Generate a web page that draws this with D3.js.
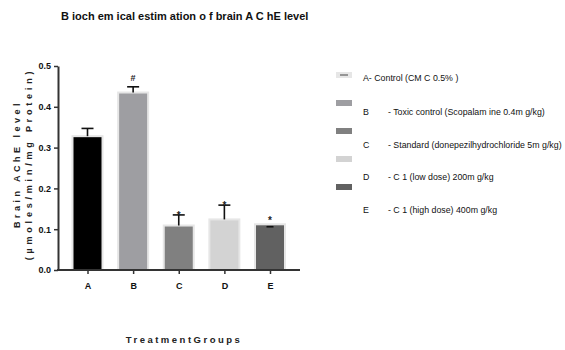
<!DOCTYPE html>
<html>
<head>
<meta charset="utf-8">
<script src="https://cdn.jsdelivr.net/npm/d3@7"></script>
<style>
body { margin: 0; background: #fff; }
text { font-family: "Liberation Sans", Arial, sans-serif; }
</style>
</head>
<body>
<div id="chart"></div>
<script>
// values
var groups = ["A", "B", "C", "D", "E"];
var means = [0.328, 0.435, 0.109, 0.124, 0.112];
var errors = [0.019, 0.014, 0.026, 0.035, -0.006];
var marks = ["", "#", "*", "*", "*"];
var colors = ["#000000", "#9e9ea2", "#808080", "#d3d3d3", "#616161"];
var yTicks = [0, 0.1, 0.2, 0.3, 0.4, 0.5];
var legendLabels = [
  ["A- Control (CM C 0.5% )", ""],
  ["B", "- Toxic control (Scopalam ine 0.4m g/kg)"],
  ["C", "- Standard (donepezilhydrochloride 5m g/kg)"],
  ["D", "- C 1 (low dose) 200m g/kg"],
  ["E", "- C 1 (high dose) 400m g/kg"]
];

var W = 565, H = 350;
var svg = d3.select("#chart").append("svg")
  .attr("width", W)
  .attr("height", H);

var x = d3.scalePoint()
  .domain(groups)
  .range([87.5, 270]);
var barW = 30;

var y = d3.scaleLinear()
  .domain([0, 0.5])
  .range([270, 66]);

// title
svg.append("text")
  .attr("x", 61)
  .attr("y", 20)
  .attr("font-size", "11px")
  .attr("font-weight", "bold")
  .attr("fill", "#111")
  .text("B ioch em ical estim ation o f brain A C hE level");

// bars
svg.selectAll(".bar")
  .data(groups)
  .enter().append("rect")
  .attr("class", "bar")
  .attr("x", function(d){ return x(d) - barW / 2; })
  .attr("y", function(d, i){ return y(means[i]); })
  .attr("width", barW)
  .attr("height", function(d, i){ return y(0) - y(means[i]); })
  .attr("fill", function(d, i){ return colors[i]; })
  .attr("stroke", "#e6e6e6")
  .attr("stroke-width", 2);

// error bars
var err = svg.selectAll(".err")
  .data(groups)
  .enter().append("g")
  .attr("class", "err");
err.append("line")
  .attr("x1", function(d){ return x(d); })
  .attr("x2", function(d){ return x(d); })
  .attr("y1", function(d, i){ return y(means[i]); })
  .attr("y2", function(d, i){ return y(means[i] + errors[i]); })
  .attr("stroke", function(d, i){ return errors[i] < 0 ? "none" : "#111"; })
  .attr("stroke-width", 1.6);
err.append("line")
  .attr("x1", function(d, i){ return x(d) - (errors[i] < 0 ? 3.5 : 6); })
  .attr("x2", function(d, i){ return x(d) + (errors[i] < 0 ? 3.5 : 6); })
  .attr("y1", function(d, i){ return y(means[i] + errors[i]); })
  .attr("y2", function(d, i){ return y(means[i] + errors[i]); })
  .attr("stroke", "#111")
  .attr("stroke-width", 1.6);

// significance marks
svg.selectAll(".mark")
  .data(groups)
  .enter().append("text")
  .attr("class", "mark")
  .attr("x", function(d){ return x(d); })
  .attr("y", function(d, i){
    var top = Math.max(means[i], means[i] + errors[i]);
    return errors[i] < 0 ? y(means[i]) - 4 : y(top) - (marks[i] == "#" ? 6 : 0);
  })
  .attr("dy", function(d, i){ return marks[i] == "#" ? 0 : 4; })
  .attr("text-anchor", "middle")
  .attr("font-size", function(d, i){ return marks[i] == "#" ? "9px" : "10px"; })
  .attr("font-weight", "bold")
  .attr("fill", "#222")
  .text(function(d, i){ return marks[i]; });

// y axis
var yAxis = svg.append("g")
  .attr("transform", "translate(58,0)")
  .call(d3.axisLeft(y).tickValues(yTicks).tickFormat(d3.format(".1f")).tickSize(4).tickSizeOuter(0));
yAxis.select(".domain").attr("stroke", "#333").attr("stroke-width", 2);
yAxis.selectAll(".tick line").attr("stroke", "#333").attr("stroke-width", 1.5);
yAxis.selectAll(".tick text")
  .attr("font-size", "9px")
  .attr("font-weight", "bold")
  .attr("fill", "#111")
  .attr("font-family", "Liberation Sans, Arial, sans-serif");

// x axis
var xAxis = svg.append("g")
  .attr("transform", "translate(0,270)")
  .call(d3.axisBottom(x).tickSize(4).tickSizeOuter(0).tickPadding(9));
xAxis.select(".domain")
  .attr("d", "M57,0H300")
  .attr("stroke", "#333").attr("stroke-width", 2);
xAxis.selectAll(".tick line").attr("stroke", "#333").attr("stroke-width", 1.5);
xAxis.selectAll(".tick text")
  .attr("font-size", "9px")
  .attr("font-weight", "bold")
  .attr("fill", "#111")
  .attr("font-family", "Liberation Sans, Arial, sans-serif");

// axis titles
svg.append("text")
  .attr("transform", "translate(20,164) rotate(-90)")
  .attr("text-anchor", "middle")
  .attr("font-size", "9px")
  .attr("font-weight", "bold")
  .attr("fill", "#222")
  .attr("letter-spacing", "3.5px")
  .text("Brain AChE level");
svg.append("text")
  .attr("transform", "translate(32,164) rotate(-90)")
  .attr("text-anchor", "middle")
  .attr("font-size", "9px")
  .attr("font-weight", "bold")
  .attr("fill", "#222")
  .attr("letter-spacing", "3.8px")
  .text("(µmoles/min/mg Protein)");

svg.append("text")
  .attr("x", 184)
  .attr("y", 343)
  .attr("text-anchor", "middle")
  .attr("font-size", "9.5px")
  .attr("font-weight", "bold")
  .attr("fill", "#222")
  .attr("letter-spacing", "2.5px")
  .text("TreatmentGroups");

// legend
var legend = svg.append("g");
var swY = [72, 100, 128, 156, 184];
var txY = [81, 115, 148, 180, 213];
legend.selectAll(".sw")
  .data(groups)
  .enter().append("rect")
  .attr("class", "sw")
  .attr("x", 336)
  .attr("y", function(d, i){ return swY[i]; })
  .attr("width", 16)
  .attr("height", 6)
  .attr("fill", function(d, i){ return i == 0 ? "#e6e6e6" : colors[i]; });
legend.append("line")
  .attr("x1", 340).attr("x2", 348)
  .attr("y1", swY[0] + 3).attr("y2", swY[0] + 3)
  .attr("stroke", "#444").attr("stroke-width", 1);
legend.selectAll(".lt")
  .data(legendLabels)
  .enter().append("text")
  .attr("class", "lt")
  .attr("x", 363)
  .attr("y", function(d, i){ return txY[i]; })
  .attr("font-size", "8.8px")
  .attr("fill", "#111")
  .text(function(d){ return d[0]; });
legend.selectAll(".lt2")
  .data(legendLabels)
  .enter().append("text")
  .attr("class", "lt2")
  .attr("x", 388)
  .attr("y", function(d, i){ return txY[i]; })
  .attr("font-size", "8.8px")
  .attr("fill", "#111")
  .text(function(d){ return d[1]; });
</script>
</body>
</html>
